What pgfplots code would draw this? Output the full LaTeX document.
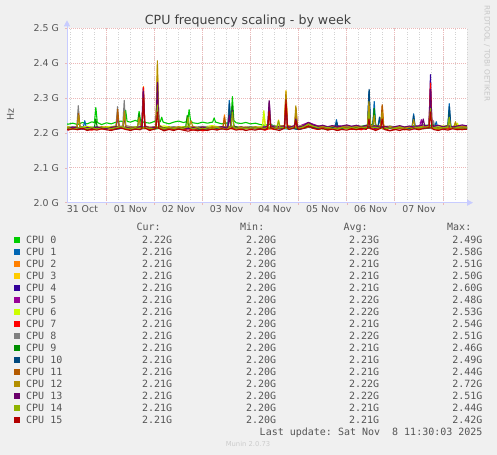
\documentclass[border=0pt]{standalone}
\usepackage{pgfplots}
\pgfplotsset{compat=1.18}
\usepackage{fontspec}
\setmainfont{DejaVu Sans}
\newfontfamily\monofont{DejaVu Sans Mono}
\usetikzlibrary{arrows.meta}

\definecolor{bgc}{HTML}{F0F0F0}
\definecolor{axisc}{HTML}{C8CCFF}
\definecolor{gridred}{HTML}{ECB8B8}
\definecolor{gridgray}{HTML}{D2D2D2}
\definecolor{txt}{HTML}{555555}
\definecolor{c0}{HTML}{00CC00}
\definecolor{c1}{HTML}{0066B3}
\definecolor{c2}{HTML}{FF8000}
\definecolor{c3}{HTML}{FFCC00}
\definecolor{c4}{HTML}{330099}
\definecolor{c5}{HTML}{990099}
\definecolor{c6}{HTML}{CCFF00}
\definecolor{c7}{HTML}{FF0000}
\definecolor{c8}{HTML}{808080}
\definecolor{c9}{HTML}{008F00}
\definecolor{c10}{HTML}{00487D}
\definecolor{c11}{HTML}{B35A00}
\definecolor{c12}{HTML}{B38F00}
\definecolor{c13}{HTML}{6B006B}
\definecolor{c14}{HTML}{8FB300}
\definecolor{c15}{HTML}{B30000}

\begin{document}
\begin{tikzpicture}
\useasboundingbox (0,0) rectangle (497bp,455bp);
\fill[bgc] (0,0) rectangle (497bp,455bp);

% x = days since 31 Oct 00:00, y = MHz
\begin{axis}[
  at={(67bp,252.3bp)}, anchor=south west,
  scale only axis, width=400bp, height=174.4bp,
  xmin=0.18, xmax=8.5, ymin=2000, ymax=2500,
  axis background/.style={fill=white},
  axis x line=bottom, axis y line=left,
  axis line style={draw=axisc, line width=0.8bp},
  x axis line style={-{Triangle[width=6bp,length=6bp]}, shorten >=-6bp},
  y axis line style={-{Triangle[width=6bp,length=6bp]}, shorten >=-8bp},
  xtick={1,...,8}, xticklabels={},
  minor xtick={0.25,0.5,...,8.5},
  extra x ticks={0.5,1.5,...,7.5},
  extra x tick labels={31 Oct,01 Nov,02 Nov,03 Nov,04 Nov,05 Nov,06 Nov,07 Nov},
  extra x tick style={grid=none, major tick length=0pt},
  ytick={2000,2100,...,2500},
  yticklabels={2.0 G,2.1 G,2.2 G,2.3 G,2.4 G,2.5 G},
  grid=both,
  major grid style={draw=gridred, dash pattern=on 1bp off 1bp, line width=0.9bp},
  minor grid style={draw=gridgray, dash pattern=on 1bp off 1.5bp, line width=0.8bp},
  tick align=outside, major tick length=2bp, minor tick length=0pt,
  tick style={draw=gridred, line width=0.6bp},
  tick label style={font=\fontsize{9.4bp}{11bp}\selectfont, text=txt, inner sep=0pt},
  xticklabel style={anchor=north, yshift=-3bp},
  yticklabel style={anchor=east, xshift=-6bp},
  every axis plot/.append style={line width=1.1bp, line join=round, no markers},
]
% CPU 0
\addplot[c0] coordinates {(0.18,2226) (0.2,2225) (0.3,2228) (0.4,2224) (0.5,2230) (0.6,2226) (0.7,2232) (0.75,2229) (0.78,2273) (0.81,2230) (0.9,2224) (1.0,2229) (1.1,2226) (1.2,2231) (1.3,2234) (1.37,2232) (1.40,2265) (1.43,2233) (1.5,2231) (1.6,2236) (1.65,2233) (1.68,2262) (1.71,2234) (1.8,2230) (1.9,2228) (2.0,2233) (2.03,2235) (2.06,2282) (2.09,2236) (2.12,2232) (2.15,2245) (2.18,2231) (2.3,2226) (2.4,2231) (2.5,2234) (2.6,2230) (2.69,2233) (2.72,2267) (2.75,2234) (2.8,2229) (2.9,2227) (3.0,2231) (3.1,2228) (3.21,2231) (3.24,2243) (3.27,2231) (3.4,2226) (3.5,2228) (3.59,2234) (3.62,2304) (3.65,2236) (3.7,2229) (3.8,2227) (3.9,2230) (4.0,2226) (4.1,2228) (4.2,2224) (4.3,2222) (4.4,2225) (4.5,2220) (4.6,2218) (4.7,2217) (4.8,2220) (4.9,2216) (5.0,2218) (5.1,2221) (5.2,2225) (5.3,2222) (5.4,2217) (5.5,2219) (5.6,2216) (5.7,2218) (5.8,2221) (5.9,2217) (6.0,2215) (6.1,2218) (6.2,2216) (6.3,2219) (6.4,2222) (6.5,2224) (6.54,2225) (6.57,2262) (6.60,2223) (6.7,2218) (6.8,2216) (6.9,2214) (7.0,2217) (7.1,2215) (7.2,2218) (7.3,2216) (7.4,2221) (7.5,2219) (7.6,2223) (7.7,2221) (7.8,2224) (7.9,2219) (8.0,2217) (8.1,2221) (8.2,2218) (8.3,2220) (8.4,2216) (8.5,2218)};
% CPU 1
\addplot[c1] coordinates {(0.18,2215) (0.4,2212) (0.52,2216) (0.55,2235) (0.58,2216) (0.8,2217) (1.0,2211) (1.2,2218) (1.23,2255) (1.26,2218) (1.4,2215) (1.6,2213) (1.8,2218) (2.0,2212) (2.2,2215) (2.4,2211) (2.6,2216) (2.8,2213) (3.0,2217) (3.2,2212) (3.4,2216) (3.525,2218) (3.555,2293) (3.585,2219) (3.8,2212) (4.0,2216) (4.2,2210) (4.4,2217) (4.6,2213) (4.8,2211) (5.0,2216) (5.2,2219) (5.4,2214) (5.6,2212) (5.755,2216) (5.785,2238) (5.815,2216) (6.0,2213) (6.2,2215) (6.4,2219) (6.43,2222) (6.46,2320) (6.49,2223) (6.54,2221) (6.57,2290) (6.60,2220) (6.65,2220) (6.68,2245) (6.71,2218) (6.8,2214) (7.0,2212) (7.2,2217) (7.36,2219) (7.39,2255) (7.42,2218) (7.6,2215) (7.8,2218) (7.83,2219) (7.86,2232) (7.89,2217) (8.0,2214) (8.10,2218) (8.13,2284) (8.16,2219) (8.3,2213) (8.5,2216)};
% CPU 2
\addplot[c2] coordinates {(0.18,2213) (0.3,2214) (0.39,2217) (0.42,2262) (0.45,2218) (0.6,2212) (0.8,2215) (1.0,2218) (1.2,2213) (1.34,2217) (1.37,2255) (1.40,2216) (1.6,2214) (1.74,2218) (1.77,2333) (1.80,2220) (2.0,2213) (2.2,2216) (2.4,2212) (2.6,2215) (2.8,2218) (3.0,2213) (3.2,2215) (3.425,2218) (3.455,2252) (3.485,2217) (3.6,2212) (3.8,2216) (4.0,2213) (4.2,2217) (4.4,2211) (4.6,2215) (4.8,2218) (5.0,2214) (5.2,2217) (5.4,2212) (5.6,2215) (5.8,2213) (6.0,2217) (6.2,2212) (6.4,2215) (6.6,2218) (6.71,2220) (6.74,2278) (6.77,2219) (6.9,2214) (7.1,2217) (7.3,2212) (7.5,2216) (7.7,2214) (7.9,2217) (8.1,2213) (8.3,2216) (8.5,2214)};
% CPU 3
\addplot[c3] coordinates {(0.18,2216) (0.4,2213) (0.6,2217) (0.8,2212) (1.0,2215) (1.2,2218) (1.4,2213) (1.6,2216) (1.8,2214) (2.0,2217) (2.03,2220) (2.06,2395) (2.09,2222) (2.2,2214) (2.4,2217) (2.6,2212) (2.8,2216) (3.0,2214) (3.2,2217) (3.4,2212) (3.6,2215) (3.8,2218) (4.0,2213) (4.2,2216) (4.245,2219) (4.275,2255) (4.305,2218) (4.4,2214) (4.55,2220) (4.58,2237) (4.61,2218) (4.705,2222) (4.735,2322) (4.765,2223) (4.9,2215) (5.1,2218) (5.3,2224) (5.5,2216) (5.7,2213) (5.9,2217) (6.1,2214) (6.3,2218) (6.5,2215) (6.7,2213) (6.9,2217) (7.1,2214) (7.3,2216) (7.5,2212) (7.7,2217) (7.9,2214) (8.1,2216) (8.23,2219) (8.26,2230) (8.29,2218) (8.5,2215)};
% CPU 4
\addplot[c4] coordinates {(0.18,2211) (0.4,2214) (0.6,2210) (0.8,2213) (1.0,2216) (1.2,2211) (1.345,2215) (1.375,2250) (1.405,2214) (1.6,2212) (1.735,2217) (1.765,2328) (1.795,2218) (2.0,2213) (2.035,2217) (2.065,2350) (2.095,2219) (2.2,2212) (2.4,2215) (2.6,2210) (2.8,2214) (3.0,2211) (3.2,2215) (3.4,2212) (3.6,2216) (3.8,2211) (4.0,2214) (4.2,2210) (4.4,2215) (4.6,2212) (4.8,2216) (5.0,2211) (5.2,2220) (5.4,2214) (5.6,2217) (5.8,2212) (6.0,2215) (6.2,2211) (6.4,2216) (6.6,2213) (6.8,2215) (7.0,2211) (7.2,2214) (7.4,2212) (7.6,2216) (7.71,2221) (7.74,2367) (7.77,2223) (7.9,2214) (8.1,2216) (8.3,2212) (8.5,2215)};
% CPU 5
\addplot[c5] coordinates {(0.18,2217) (0.4,2214) (0.6,2218) (0.8,2213) (1.0,2216) (1.205,2218) (1.235,2250) (1.265,2217) (1.4,2213) (1.6,2217) (1.8,2214) (2.0,2218) (2.2,2213) (2.4,2216) (2.6,2214) (2.8,2217) (3.0,2212) (3.2,2215) (3.4,2218) (3.6,2214) (3.8,2217) (4.0,2213) (4.2,2216) (4.36,2220) (4.39,2285) (4.42,2221) (4.6,2216) (4.8,2214) (5.0,2219) (5.2,2230) (5.4,2220) (5.6,2217) (5.8,2221) (6.0,2218) (6.2,2220) (6.4,2216) (6.6,2219) (6.8,2215) (7.0,2218) (7.2,2214) (7.4,2219) (7.52,2221) (7.55,2238) (7.58,2220) (7.7,2217) (7.9,2220) (8.1,2216) (8.3,2219) (8.5,2221)};
% CPU 6
\addplot[c6] coordinates {(0.18,2218) (0.4,2215) (0.6,2219) (0.8,2214) (1.0,2217) (1.2,2220) (1.4,2215) (1.6,2218) (1.8,2213) (2.0,2217) (2.2,2220) (2.4,2215) (2.6,2218) (2.8,2214) (3.0,2217) (3.2,2221) (3.4,2216) (3.6,2219) (3.8,2215) (4.0,2218) (4.2,2216) (4.245,2220) (4.275,2264) (4.305,2221) (4.4,2217) (4.6,2220) (4.8,2216) (5.0,2219) (5.2,2224) (5.4,2218) (5.6,2215) (5.8,2219) (6.0,2216) (6.2,2220) (6.4,2217) (6.6,2215) (6.8,2219) (7.0,2216) (7.2,2218) (7.4,2215) (7.6,2219) (7.8,2217) (8.0,2220) (8.2,2218) (8.27,2220) (8.30,2228) (8.33,2219) (8.5,2217)};
% CPU 7
\addplot[c7] coordinates {(0.18,2212) (0.2,2209) (0.3,2213) (0.4,2211) (0.5,2215) (0.6,2210) (0.7,2208) (0.8,2213) (0.9,2211) (1.0,2214) (1.1,2210) (1.2,2213) (1.3,2216) (1.4,2212) (1.5,2209) (1.6,2214) (1.7,2211) (1.74,2215) (1.77,2330) (1.80,2216) (1.9,2209) (2.0,2213) (2.03,2216) (2.06,2290) (2.09,2215) (2.2,2208) (2.3,2212) (2.4,2210) (2.5,2214) (2.6,2209) (2.7,2212) (2.8,2208) (2.9,2211) (3.0,2206) (3.1,2209) (3.2,2213) (3.3,2210) (3.4,2214) (3.5,2211) (3.6,2215) (3.7,2212) (3.8,2209) (3.9,2213) (4.0,2210) (4.1,2214) (4.2,2211) (4.3,2208) (4.4,2213) (4.5,2210) (4.6,2214) (4.705,2218) (4.735,2305) (4.765,2217) (4.8,2211) (4.9,2214) (5.0,2210) (5.1,2215) (5.2,2219) (5.3,2213) (5.4,2210) (5.5,2214) (5.6,2209) (5.7,2212) (5.8,2208) (5.9,2211) (6.0,2214) (6.1,2210) (6.2,2213) (6.3,2209) (6.4,2215) (6.5,2212) (6.6,2210) (6.7,2214) (6.8,2211) (6.9,2207) (7.0,2210) (7.1,2213) (7.2,2209) (7.3,2212) (7.4,2215) (7.5,2211) (7.6,2214) (7.71,2220) (7.74,2343) (7.77,2221) (7.8,2213) (7.9,2210) (8.0,2214) (8.1,2211) (8.2,2215) (8.3,2212) (8.4,2209) (8.5,2213)};
% CPU 8
\addplot[c8] coordinates {(0.18,2216) (0.385,2218) (0.415,2278) (0.445,2219) (0.6,2214) (0.8,2217) (1.0,2213) (1.2,2220) (1.23,2275) (1.26,2219) (1.34,2220) (1.37,2293) (1.40,2221) (1.6,2216) (1.8,2213) (2.0,2217) (2.2,2214) (2.4,2218) (2.6,2213) (2.8,2216) (3.0,2219) (3.2,2215) (3.4,2217) (3.525,2219) (3.555,2270) (3.585,2220) (3.8,2215) (4.0,2218) (4.2,2214) (4.355,2220) (4.385,2290) (4.415,2221) (4.6,2217) (4.8,2219) (5.0,2215) (5.2,2226) (5.4,2218) (5.6,2215) (5.8,2219) (6.0,2216) (6.2,2220) (6.4,2217) (6.43,2221) (6.46,2300) (6.49,2222) (6.7,2217) (6.9,2220) (7.1,2215) (7.3,2218) (7.5,2214) (7.7,2217) (7.77,2219) (7.80,2235) (7.83,2218) (8.0,2215) (8.2,2219) (8.4,2216) (8.5,2218)};
% CPU 9
\addplot[c9] coordinates {(0.18,2212) (0.4,2215) (0.6,2211) (0.75,2216) (0.78,2240) (0.81,2215) (1.0,2213) (1.2,2216) (1.4,2212) (1.65,2217) (1.68,2255) (1.71,2216) (1.8,2214) (2.0,2211) (2.2,2215) (2.4,2212) (2.6,2216) (2.65,2218) (2.68,2250) (2.71,2217) (2.8,2213) (3.0,2210) (3.2,2214) (3.4,2212) (3.59,2219) (3.62,2280) (3.65,2220) (3.8,2213) (4.0,2216) (4.2,2211) (4.4,2214) (4.6,2212) (4.8,2215) (5.0,2211) (5.2,2217) (5.4,2213) (5.6,2211) (5.8,2215) (6.0,2212) (6.2,2216) (6.4,2213) (6.54,2218) (6.57,2270) (6.60,2217) (6.8,2212) (7.0,2215) (7.2,2211) (7.4,2214) (7.6,2212) (7.8,2216) (8.0,2213) (8.10,2217) (8.13,2260) (8.16,2216) (8.3,2213) (8.5,2211)};
% CPU 10
\addplot[c10] coordinates {(0.18,2213) (0.4,2210) (0.6,2214) (0.8,2212) (1.0,2215) (1.2,2211) (1.4,2214) (1.6,2210) (1.8,2213) (2.0,2216) (2.2,2211) (2.4,2214) (2.6,2212) (2.8,2215) (3.0,2211) (3.2,2214) (3.4,2212) (3.53,2217) (3.56,2285) (3.59,2218) (3.8,2212) (4.0,2214) (4.2,2211) (4.4,2215) (4.6,2212) (4.8,2214) (5.0,2210) (5.2,2216) (5.4,2213) (5.6,2215) (5.76,2216) (5.79,2230) (5.82,2215) (6.0,2213) (6.2,2216) (6.4,2217) (6.435,2221) (6.465,2325) (6.495,2222) (6.655,2219) (6.685,2245) (6.715,2217) (6.9,2213) (7.1,2215) (7.3,2212) (7.36,2217) (7.39,2250) (7.42,2216) (7.6,2213) (7.8,2215) (8.0,2212) (8.105,2217) (8.135,2275) (8.165,2218) (8.3,2214) (8.5,2212)};
% CPU 11
\addplot[c11] coordinates {(0.18,2214) (0.39,2216) (0.42,2255) (0.45,2215) (0.6,2212) (0.8,2215) (1.0,2211) (1.205,2217) (1.235,2268) (1.265,2218) (1.4,2213) (1.6,2216) (1.8,2212) (2.0,2215) (2.2,2211) (2.4,2214) (2.6,2212) (2.8,2215) (3.0,2213) (3.2,2216) (3.425,2217) (3.455,2245) (3.485,2216) (3.6,2213) (3.8,2210) (4.0,2214) (4.2,2212) (4.4,2215) (4.6,2213) (4.70,2218) (4.73,2310) (4.76,2219) (4.915,2218) (4.945,2270) (4.975,2217) (5.1,2214) (5.3,2219) (5.5,2215) (5.7,2212) (5.9,2216) (6.1,2213) (6.3,2215) (6.43,2219) (6.46,2270) (6.49,2218) (6.705,2220) (6.735,2281) (6.765,2219) (6.9,2215) (7.1,2212) (7.3,2216) (7.5,2213) (7.7,2215) (7.9,2212) (8.1,2215) (8.3,2213) (8.5,2215)};
% CPU 12
\addplot[c12] coordinates {(0.18,2215) (0.2,2217) (0.3,2213) (0.39,2218) (0.42,2250) (0.45,2217) (0.5,2214) (0.6,2217) (0.7,2212) (0.8,2215) (0.9,2218) (1.0,2213) (1.1,2216) (1.2,2219) (1.3,2214) (1.345,2217) (1.375,2262) (1.405,2216) (1.5,2217) (1.6,2214) (1.65,2218) (1.68,2245) (1.71,2217) (1.74,2219) (1.77,2310) (1.80,2220) (1.9,2213) (2.0,2217) (2.03,2221) (2.06,2407) (2.09,2223) (2.2,2213) (2.3,2217) (2.4,2214) (2.5,2218) (2.6,2215) (2.7,2219) (2.73,2221) (2.76,2235) (2.79,2220) (2.9,2213) (3.0,2217) (3.1,2214) (3.2,2218) (3.3,2215) (3.4,2212) (3.5,2216) (3.6,2219) (3.7,2215) (3.8,2213) (3.9,2217) (4.0,2214) (4.1,2218) (4.2,2215) (4.3,2212) (4.355,2218) (4.385,2270) (4.415,2219) (4.5,2216) (4.6,2219) (4.705,2221) (4.735,2318) (4.765,2222) (4.8,2216) (4.91,2220) (4.94,2278) (4.97,2219) (5.0,2216) (5.1,2219) (5.2,2227) (5.3,2221) (5.4,2217) (5.5,2220) (5.6,2216) (5.7,2219) (5.8,2215) (5.9,2218) (6.0,2221) (6.1,2217) (6.2,2219) (6.3,2216) (6.4,2220) (6.43,2222) (6.46,2290) (6.49,2221) (6.54,2220) (6.57,2250) (6.60,2219) (6.705,2219) (6.735,2260) (6.765,2218) (6.8,2216) (6.9,2219) (7.0,2215) (7.1,2218) (7.2,2214) (7.3,2217) (7.36,2219) (7.39,2238) (7.42,2218) (7.5,2215) (7.6,2219) (7.71,2221) (7.74,2300) (7.77,2222) (7.8,2217) (7.9,2214) (8.0,2218) (8.10,2218) (8.13,2240) (8.16,2217) (8.2,2215) (8.23,2218) (8.26,2232) (8.29,2217) (8.4,2219) (8.5,2217)};
% CPU 13
\addplot[c13] coordinates {(0.18,2215) (0.2,2213) (0.3,2217) (0.4,2214) (0.5,2211) (0.6,2216) (0.7,2213) (0.8,2217) (0.9,2214) (1.0,2212) (1.1,2216) (1.2,2218) (1.3,2214) (1.4,2217) (1.5,2213) (1.6,2215) (1.74,2219) (1.77,2320) (1.80,2220) (1.9,2213) (2.0,2216) (2.03,2219) (2.06,2345) (2.09,2220) (2.2,2212) (2.3,2216) (2.4,2213) (2.5,2210) (2.6,2215) (2.7,2212) (2.8,2216) (2.9,2213) (3.0,2217) (3.1,2214) (3.2,2211) (3.3,2215) (3.4,2218) (3.5,2214) (3.525,2218) (3.555,2250) (3.585,2217) (3.62,2265) (3.65,2218) (3.7,2214) (3.8,2217) (3.9,2213) (4.0,2216) (4.1,2212) (4.2,2215) (4.3,2217) (4.355,2220) (4.385,2293) (4.415,2221) (4.5,2216) (4.6,2219) (4.705,2220) (4.735,2280) (4.765,2221) (4.8,2216) (4.91,2221) (4.94,2240) (4.97,2220) (5.0,2217) (5.1,2221) (5.2,2230) (5.3,2223) (5.4,2219) (5.5,2222) (5.6,2218) (5.7,2221) (5.8,2217) (5.9,2220) (6.0,2223) (6.1,2219) (6.2,2222) (6.3,2218) (6.4,2221) (6.5,2217) (6.6,2220) (6.7,2216) (6.8,2219) (6.9,2215) (7.0,2218) (7.1,2221) (7.2,2217) (7.3,2220) (7.4,2216) (7.5,2219) (7.56,2222) (7.59,2240) (7.62,2220) (7.71,2223) (7.74,2325) (7.77,2224) (7.8,2219) (7.9,2222) (8.0,2218) (8.1,2221) (8.2,2217) (8.3,2220) (8.4,2223) (8.5,2220)};
% CPU 14
\addplot[c14] coordinates {(0.18,2212) (0.2,2215) (0.3,2211) (0.4,2214) (0.5,2217) (0.6,2212) (0.7,2215) (0.8,2211) (0.9,2214) (1.0,2216) (1.1,2212) (1.2,2215) (1.3,2218) (1.4,2214) (1.5,2211) (1.6,2215) (1.7,2212) (1.8,2216) (1.9,2213) (2.0,2211) (2.03,2216) (2.06,2280) (2.09,2217) (2.2,2212) (2.3,2216) (2.4,2213) (2.5,2210) (2.6,2214) (2.67,2217) (2.70,2245) (2.73,2216) (2.8,2212) (2.9,2215) (3.0,2211) (3.1,2215) (3.2,2212) (3.3,2216) (3.4,2213) (3.5,2210) (3.59,2217) (3.62,2260) (3.65,2216) (3.7,2213) (3.8,2216) (3.9,2212) (4.0,2215) (4.1,2213) (4.2,2216) (4.3,2212) (4.4,2215) (4.5,2213) (4.55,2217) (4.58,2235) (4.61,2216) (4.7,2214) (4.8,2212) (4.9,2216) (5.0,2213) (5.1,2217) (5.2,2225) (5.3,2219) (5.4,2215) (5.5,2212) (5.6,2216) (5.7,2213) (5.8,2211) (5.9,2215) (6.0,2212) (6.1,2216) (6.2,2213) (6.3,2217) (6.4,2214) (6.43,2218) (6.46,2260) (6.49,2217) (6.6,2216) (6.7,2213) (6.8,2211) (6.9,2215) (7.0,2212) (7.1,2216) (7.2,2213) (7.3,2210) (7.4,2214) (7.5,2217) (7.6,2213) (7.71,2219) (7.74,2270) (7.77,2218) (7.8,2214) (7.9,2211) (8.0,2215) (8.10,2216) (8.13,2245) (8.16,2215) (8.2,2212) (8.3,2216) (8.4,2213) (8.5,2215)};
% CPU 15
\addplot[c15] coordinates {(0.18,2211) (0.2,2208) (0.3,2212) (0.4,2209) (0.5,2213) (0.6,2207) (0.7,2211) (0.8,2208) (0.9,2212) (1.0,2209) (1.1,2207) (1.2,2211) (1.3,2214) (1.4,2210) (1.5,2207) (1.6,2211) (1.7,2209) (1.74,2213) (1.77,2300) (1.80,2214) (1.9,2207) (2.0,2211) (2.03,2214) (2.06,2260) (2.09,2213) (2.2,2206) (2.3,2210) (2.4,2207) (2.5,2211) (2.6,2208) (2.7,2205) (2.8,2209) (2.9,2206) (3.0,2210) (3.1,2207) (3.2,2211) (3.3,2208) (3.4,2212) (3.5,2209) (3.6,2213) (3.7,2208) (3.8,2211) (3.9,2207) (4.0,2210) (4.1,2208) (4.2,2212) (4.3,2209) (4.355,2214) (4.385,2262) (4.415,2215) (4.5,2210) (4.6,2207) (4.705,2214) (4.735,2295) (4.765,2215) (4.8,2210) (4.91,2215) (4.94,2235) (4.97,2214) (5.0,2210) (5.1,2213) (5.2,2220) (5.3,2214) (5.4,2210) (5.5,2213) (5.6,2208) (5.7,2211) (5.8,2207) (5.9,2210) (6.0,2208) (6.1,2212) (6.2,2209) (6.3,2213) (6.4,2210) (6.43,2214) (6.46,2240) (6.49,2213) (6.6,2207) (6.705,2213) (6.735,2240) (6.765,2212) (6.8,2209) (6.9,2206) (7.0,2210) (7.1,2207) (7.2,2211) (7.3,2208) (7.4,2212) (7.5,2209) (7.6,2213) (7.71,2215) (7.74,2260) (7.77,2214) (7.8,2210) (7.9,2207) (8.0,2211) (8.1,2208) (8.2,2212) (8.3,2209) (8.4,2211) (8.5,2210)};
\end{axis}

% title, axis label, credits
\node[anchor=base, text=black!75, font=\fontsize{12.6bp}{15bp}\selectfont] at (248bp,430bp) {CPU frequency scaling - by week};
\node[rotate=90, text=txt, font=\fontsize{9.4bp}{11bp}\selectfont] at (10.5bp,340bp) {Hz};
\node[rotate=-90, text=black!22, font=\fontsize{7.4bp}{9bp}\selectfont] at (487bp,401.5bp) {RRDTOOL / TOBI OETIKER};

% legend table
\begin{scope}[every node/.style={inner sep=0pt, text=txt, font=\monofont\fontsize{10bp}{12bp}\selectfont\frenchspacing}]
\node[anchor=base west] at (136.3bp,224bp) {Cur:};
\node[anchor=base west] at (240bp,224bp) {Min:};
\node[anchor=base west] at (343.3bp,224bp) {Avg:};
\node[anchor=base west] at (447bp,224bp) {Max:};
\foreach \i/\cur/\avg/\mx in {0/2.22G/2.23G/2.49G, 1/2.21G/2.22G/2.58G, 2/2.21G/2.21G/2.51G, 3/2.21G/2.21G/2.50G, 4/2.21G/2.21G/2.60G, 5/2.21G/2.22G/2.48G, 6/2.21G/2.22G/2.53G, 7/2.21G/2.21G/2.54G, 8/2.21G/2.22G/2.51G, 9/2.21G/2.21G/2.46G, 10/2.21G/2.21G/2.49G, 11/2.21G/2.21G/2.44G, 12/2.21G/2.22G/2.72G, 13/2.21G/2.22G/2.51G, 14/2.21G/2.21G/2.44G, 15/2.21G/2.21G/2.42G}{
  \pgfmathsetmacro\yy{215-12*\i}
  \fill[c\i] (14bp,\yy bp-3bp) rectangle (20bp,\yy bp+3bp);
  \node[anchor=base west] at (26bp,\yy bp-3.65bp) {CPU \i};
  \node[anchor=base east] at (172.3bp,\yy bp-3.65bp) {\cur};
  \node[anchor=base east] at (276.3bp,\yy bp-3.65bp) {2.20G};
  \node[anchor=base east] at (379.3bp,\yy bp-3.65bp) {\avg};
  \node[anchor=base east] at (482.7bp,\yy bp-3.65bp) {\mx};
}
\node[anchor=base east] at (482.7bp,19.7bp) {Last update: Sat Nov\ \ 8 11:30:03 2025};
\end{scope}
\node[anchor=base, text=black!20, font=\fontsize{6.8bp}{8bp}\selectfont] at (248bp,8.5bp) {Munin 2.0.73};
\end{tikzpicture}
\end{document}
